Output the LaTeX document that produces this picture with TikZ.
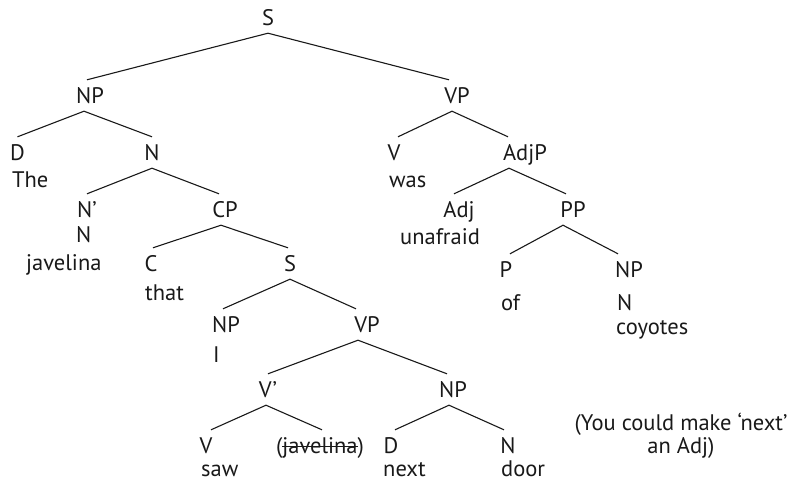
\documentclass[tikz,border=0pt]{standalone}
\usepackage{fontspec}
\setmainfont{PT Sans}
\newcommand\strikeword[1]{\setbox0\hbox{#1}\rlap{\rule[0.25em]{\wd0}{1pt}}\box0}
\newcommand\treeedge[4]{\draw[edge] ([xshift=#2pt]#1.south) -- ([xshift=#4pt]#3.north);}
\begin{document}
\begin{tikzpicture}[x=1pt,y=-1pt,
  every node/.style={font=\fontsize{22.5}{25}\selectfont, text=black!90, inner sep=0pt},
  cat/.style={anchor=base, text height=15pt, text depth=0pt, inner ysep=8pt, inner xsep=0pt},
  word/.style={anchor=base west},
  edge/.style={line width=1.1pt, draw=black!90}]
\useasboundingbox (0,0) rectangle (801,488);
% category labels
\node[cat] (S0) at (268,25) {S};
\node[cat] (NP1) at (90,103) {NP};
\node[cat] (VP1) at (457,103) {VP};
\node[cat] (D1) at (17.5,160) {D};
\node[cat] (N1) at (152,160) {N};
\node[cat] (V1) at (394,160) {V};
\node[cat] (AdjP) at (525,160) {AdjP};
\node[cat] (Nbar) at (87,217) {N’};
\node[cat] (CP) at (225,217) {CP};
\node[cat] (Adj) at (459,217) {Adj};
\node[cat] (PP) at (573,217) {PP};
\node[cat] (C) at (151,271) {C};
\node[cat] (S2) at (290,271) {S};
\node[cat] (P) at (506,277) {P};
\node[cat] (NP3) at (629,277) {NP};
\node[cat] (NP2) at (226,332) {NP};
\node[cat] (VP2) at (367,332) {VP};
\node[cat] (Vbar) at (268,397) {V’};
\node[cat] (NP4) at (453,397) {NP};
\node[cat] (V2) at (206,453) {V};
\node[cat] (jav) at (320,453) {(\strikeword{javelina})};
\node[cat] (D2) at (391,453) {D};
\node[cat] (N4) at (508,453) {N};
% words
\node[word] (the) at (12,187) {The};
\node[word] (was) at (389,187) {was};
\node[word] (N2) at (76,242) {N};
\node[word] (unafraid) at (400,244) {unafraid};
\node[word] (javelina) at (26,270) {javelina};
\node[word] (that) at (145,300) {that};
\node[word] (of) at (501,310) {of};
\node[word] (N3) at (617,310) {N};
\node[word] (coyotes) at (616,334) {coyotes};
\node[word] (I) at (213,362) {I};
\node[word] (saw) at (201,476) {saw};
\node[word] (next) at (383,476) {next};
\node[word] (door) at (501,476) {door};
\node[anchor=base, align=center] (note) at (681,453) {(You could make ‘next’\\[-2pt]an Adj)};
% edges
\treeedge{S0}{0}{NP1}{-3}
\treeedge{S0}{0}{VP1}{-8}
\treeedge{NP1}{-6}{D1}{0}
\treeedge{NP1}{-6}{N1}{0}
\treeedge{N1}{0}{Nbar}{0}
\treeedge{N1}{0}{CP}{-6}
\treeedge{CP}{-4}{C}{2}
\treeedge{CP}{-4}{S2}{-2}
\treeedge{S2}{0}{NP2}{-3}
\treeedge{S2}{0}{VP2}{-11}
\treeedge{VP2}{-9}{Vbar}{0}
\treeedge{VP2}{-9}{NP4}{-6}
\treeedge{Vbar}{-2}{V2}{5}
\treeedge{Vbar}{-2}{jav}{2}
\treeedge{NP4}{-4}{D2}{4}
\treeedge{NP4}{-4}{N4}{-4}
\treeedge{VP1}{-5}{V1}{4}
\treeedge{VP1}{-5}{AdjP}{-17}
\treeedge{AdjP}{-16}{Adj}{-5}
\treeedge{AdjP}{-16}{PP}{-7}
\treeedge{PP}{-10}{P}{4}
\treeedge{PP}{-10}{NP3}{-11}
\end{tikzpicture}
\end{document}
